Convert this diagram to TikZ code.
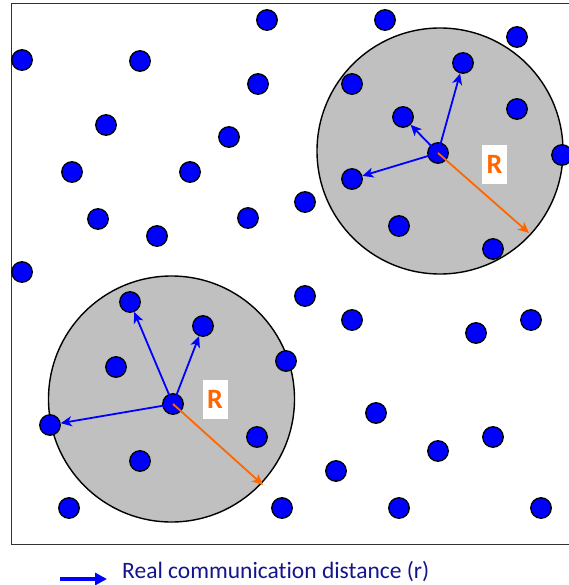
\documentclass[tikz,border=0pt]{standalone}
\usepackage{fontspec}
\setmainfont{Carlito}[Ligatures=NoCommon]
\usetikzlibrary{arrows.meta}

\definecolor{zonegray}{RGB}{192,192,192}
\definecolor{rorange}{RGB}{255,102,0}
\definecolor{legendblue}{RGB}{20,20,140}

\tikzset{
  sensor/.style={circle, draw=black, line width=1.3pt, fill=blue, minimum size=20.5pt, inner sep=0pt},
  zone/.style={draw=black, line width=1.4pt, fill=zonegray},
  link/.style={-{Stealth[length=11pt,width=10pt,inset=3pt]}, blue, line width=1.8pt},
  reach/.style={-{Stealth[length=11pt,width=10pt,inset=3pt]}, rorange, line width=1.8pt},
  rlabel/.style={fill=white, text=rorange, font=\bfseries\fontsize{28}{28}\selectfont, minimum width=25pt, minimum height=39pt, inner sep=0pt}
}

\begin{document}
\begin{tikzpicture}[x=1pt,y=-1pt]
  \useasboundingbox (0,0) rectangle (568,585);
  % Field border
  \draw[line width=1.3pt, black!80] (11.5,3.5) rectangle (600,544.5);
  % Communication ranges
  \draw[zone] (440,151) circle[radius=123pt];
  \draw[zone] (171.5,399) circle[radius=123pt];
  % Sensor nodes
  \foreach \px/\py [count=\i] in {22/60, 140/61, 267/20, 385/20, 517/37, 258/84, 352/84,
      463/63, 106/125, 229/137, 403/117, 517/109, 72/172, 190/172, 352/179, 562/155,
      98/219, 157/236, 248/218, 305/202, 399/226, 493/249, 22/272, 305/296, 130/302,
      203/326, 352/320, 476/333, 531/320, 286/361, 116/367, 376/413, 50/425, 257/437,
      438/451, 493/437, 140/461, 336/471, 69/508, 282/508, 399/508, 541/508}
    \node[sensor] (n\i) at (\px,\py) {};
  % Range centres
  \node[sensor] (hubA) at (438,153) {};
  \node[sensor] (hubB) at (173,404) {};
  % Real links
  \draw[link] (hubA.center) -- (n8);
  \draw[link] (hubA.center) -- (n11);
  \draw[link] (hubA.center) -- (n15);
  \draw[link] (hubB.center) -- (n25);
  \draw[link] (hubB.center) -- (n26);
  \draw[link] (hubB.center) -- (n33);
  % Nominal radius
  \coordinate (edgeA) at (529,233);
  \coordinate (edgeB) at (263,485);
  \draw[reach] (hubA.center) -- (edgeA);
  \draw[reach] (hubB.center) -- (edgeB);
  \node[rlabel] (labA) at (494.5,164.5) {R};
  \node[rlabel] (labB) at (215,399.5) {R};
  % Legend
  \coordinate (legS) at (60,579);
  \coordinate (legE) at (107,579);
  \draw[-{Triangle[length=12pt,width=12pt]}, blue, line width=4pt] (legS) -- (legE);
  \node[anchor=base west, text=legendblue, font=\fontsize{23.5}{23.5}\selectfont, inner sep=0pt] (legtxt) at (122,578) {Real communication distance (r)};
\end{tikzpicture}
\end{document}
